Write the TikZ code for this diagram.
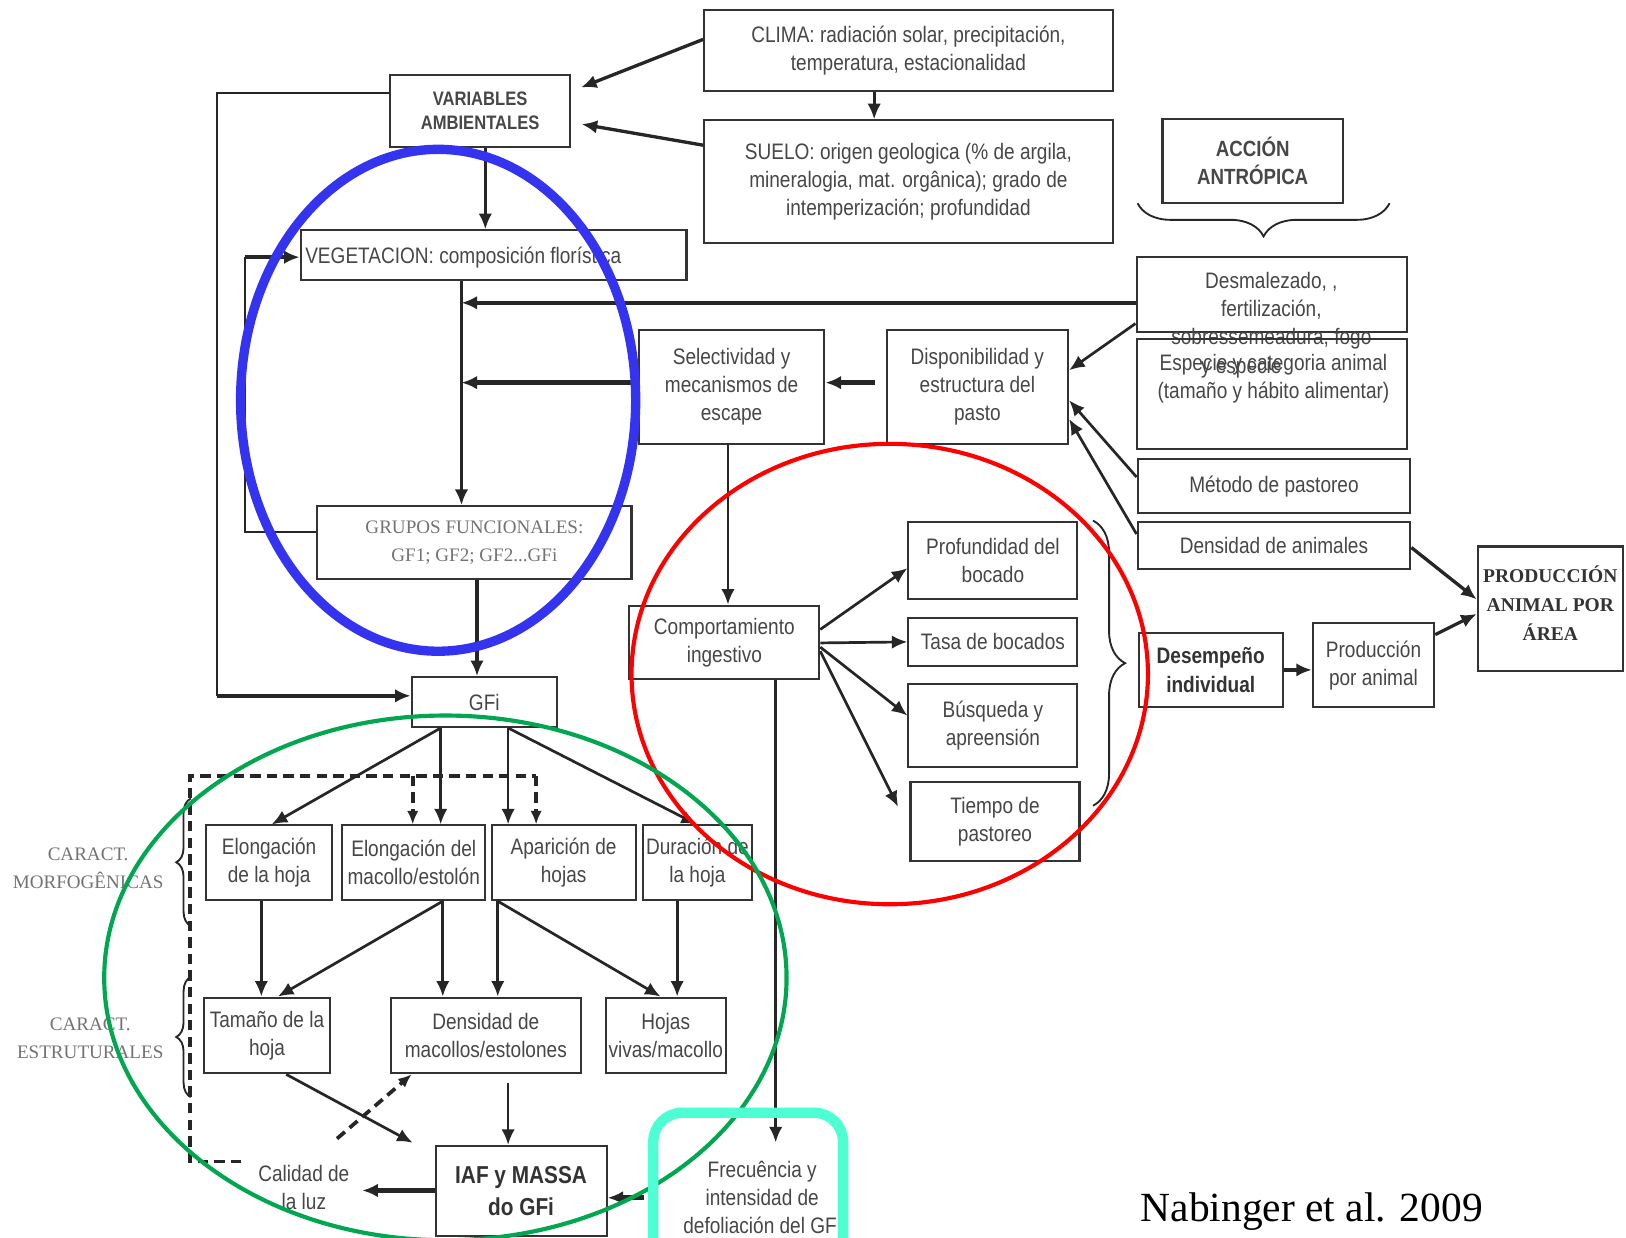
\documentclass[tikz,border=0pt]{standalone}
\usepackage{fontspec}
\setmainfont{Liberation Sans}
\newfontfamily\nar[FakeStretch=0.85]{Liberation Sans}
\newfontfamily\tim{Liberation Serif}
\usetikzlibrary{arrows.meta,decorations.pathreplacing,calc}
\newcommand\bxf{\nar\fontsize{10.8}{13.5}\selectfont}
\newcommand\bbf{\nar\bfseries\fontsize{10.8}{14}\selectfont}
\newcommand\smf{\tim\fontsize{9.2}{13.5}\selectfont}
\definecolor{ebl}{RGB}{51,51,240}
\definecolor{ered}{RGB}{255,0,0}
\definecolor{egr}{RGB}{0,166,80}
\definecolor{ecy}{RGB}{77,255,210}
\begin{document}
\begin{tikzpicture}[x=0.5pt,y=-0.5pt,
  box/.style={draw=black!80,line width=1pt,inner sep=0pt,align=center,font=\bxf,text=black!72},
  rc/.style args={#1/#2/#3/#4}{at={({(#1+#3)/2},{(#2+#4)/2})},minimum width={(#3-#1)*0.5pt},minimum height={(#4-#2)*0.5pt}},
  txt/.style={align=center,font=\bxf,text=black!72,inner sep=0pt},
  arr/.style={draw=black!85,line width=1.3pt,-{Latex[length=7.5pt,width=6.5pt]}},
  tarr/.style={arr,line width=2.2pt},
  thn/.style={draw=black!85,line width=1pt},
  dsh/.style={draw=black!85,line width=1.8pt,dash pattern=on 5pt off 3pt},
  dsha/.style={dsh,-{Latex[length=6.5pt,width=5.5pt]}},
  brc/.style={draw=black!85,line width=0.9pt,decorate},
]
\useasboundingbox (0,0) rectangle (1568,1193);
\fill[white] (0,0) rectangle (1568,1193);
\clip (0,0) rectangle (1568,1193);

% ---- top boxes
\node[box,rc=679/10/1073/88] (clima) {CLIMA: radiación solar, precipitación,\\temperatura, estacionalidad};
\node[box,rc=679/116/1073/234] (suelo) {SUELO: origen geologica (\% de argila,\\mineralogia, mat. orgânica); grado de\\intemperización; profundidad};
\node[box,rc=376/72/550/142,font=\nar\bfseries\fontsize{9.4}{11.5}\selectfont] (var) {VARIABLES\\AMBIENTALES};
\node[box,rc=1121/115/1295/196,font=\nar\bfseries\fontsize{10.6}{13.5}\selectfont] (accion) {ACCIÓN\\ANTRÓPICA};
\node[box,rc=1096/248/1357/320] (desm) {};
\node[txt] (desmt) at (1226,300) {Desmalezado, ,\\fertilización,\\sobressemeadura, fogo};
\node[box,rc=1096/327/1357/433] (especie) {};
\node[txt] (especiet) at (1228,365) {Especie y categoria animal\\(tamaño y hábito alimentar)};
\node[txt] (yesp) at (1197,355) {y especie};
\node[box,rc=1097/443/1360/495] (metodo) {Método de pastoreo};
\node[box,rc=1097/503/1360/549] (densanim) {Densidad de animales};
\node[box,rc=1425/527/1565/647] (prod) {};
\node[txt,font=\tim\bfseries\fontsize{9.4}{14}\selectfont,text=black!80] (prodt) at (1495,582) {PRODUCCIÓN\\ANIMAL POR\\ÁREA};

\node[box,rc=855/318/1030/428] (disp) {Disponibilidad y\\estructura del\\pasto};
\node[box,rc=616/318/795/428] (sel) {Selectividad y\\mecanismos de\\escape};

\node[box,rc=290/222/662/270] (veg) {};
\node[txt,anchor=west] (vegt) at (294,248) {VEGETACION: composición florística};
\node[box,rc=306/488/609/558,font=\smf,text=black!55] (grupos) {GRUPOS FUNCIONALES:\\GF1; GF2; GF2...GFi};
\node[box,rc=397/653/537/701] (gfi) {GFi};

\node[box,rc=607/584/790/655] (comp) {Comportamiento\\ingestivo};
\node[box,rc=876/503/1039/578] (prof) {Profundidad del\\bocado};
\node[box,rc=876/596/1039/642] (tasa) {Tasa de bocados};
\node[box,rc=876/660/1039/740] (busq) {Búsqueda y\\apreensión};
\node[box,rc=878/754/1041/830] (tiempo) {Tiempo de\\pastoreo};
\node[box,rc=1098/610/1237/682,font=\bbf,text=black!80] (desemp) {Desempeño\\individual};
\node[box,rc=1266/601/1383/682] (prodanim) {Producción\\por animal};

% ---- lower part
\node[box,rc=199/796/320/868] (elh) {Elongación\\de la hoja};
\node[box,rc=330/796/468/868] (elm) {Elongación del\\macollo/estolón};
\node[box,rc=474/796/613/868] (apa) {Aparición de\\hojas};
\node[box,rc=620/796/725/868] (dur) {Duración de\\la hoja};
\node[box,rc=197/962/318/1035] (tam) {Tamaño de la\\hoja};
\node[box,rc=377/962/560/1035] (densm) {Densidad de\\macollos/estolones};
\node[box,rc=584/962/700/1035] (hojas) {Hojas\\vivas/macollo};
\node[box,rc=420/1105/585/1192,font=\nar\bfseries\fontsize{11.8}{15.5}\selectfont,text=black!80] (iaf) {IAF y MASSA\\do GFi};
\node[txt] (calidad) at (293,1145) {Calidad de\\la luz};
\node[txt] (frec) at (735,1155) {Frecuência y\\intensidad de\\defoliación del GFi};
\node[txt,font=\smf,text=black!55] (morfo) at (85,837) {CARACT.\\MORFOGÊNICAS};
\node[txt,font=\smf,text=black!55] (estru) at (87,1001) {CARACT.\\ESTRUTURALES};
\node[inner sep=0pt,font=\tim\fontsize{20}{24}\selectfont] (cite) at (1265,1168) {Nabinger et al. 2009};

% ---- connectors top
\draw[arr] (clima.south -| 843,0) -- (suelo.north -| 843,0);
\draw[arr,line width=1.6pt,shorten >=5pt] (clima.west |- 0,38) -- (var.east |- 0,88);
\draw[arr,line width=1.6pt,shorten >=5pt] (suelo.west |- 0,140) -- (var.east |- 0,118);
\draw[arr] (var.south -| 468,0) -- (veg.north -| 468,0);
\coordinate (cL) at (209,671);
\draw[thn] (var.west |- 0,90) -| (cL);
\draw[tarr] (cL) -- (gfi.west |- cL);
\coordinate (cG) at (236,248);
\draw[thn] (grupos.west |- 0,513) -| (cG);
\draw[arr,line width=2pt] (cG) -- (veg.west |- cG);
\draw[arr] (veg.south -| 445,0) -- (grupos.north -| 445,0);
\coordinate (vA) at (445,292);
\coordinate (vB) at (445,369);
\draw[arr,line width=1.8pt] (desm.west |- vA) -- (vA);
\draw[tarr] (sel.west |- vB) -- (vB);
\draw[tarr,shorten <=5pt] (disp.west |- vB) -- (sel.east |- vB);
\draw[arr] (desm.west |- 0,312) -- (disp.east |- 0,357);
\draw[arr] (metodo.west |- 0,460) -- (disp.east |- 0,386);
\draw[arr] (densanim.west |- 0,515) -- (disp.east |- 0,404);
\draw[arr] (sel.south -| 702,0) -- (comp.north -| 702,0);
\draw[arr] (comp.east |- 0,607) -- (prof.west |- 0,548);
\draw[arr] (comp.east |- 0,620) -- (tasa.west);
\draw[arr] (comp.east |- 0,624) -- (busq.west |- 0,690);
\coordinate (tT) at (866,778);
\draw[arr] (comp.east |- 0,628) -- (tT);
\draw[brc,decoration={brace,amplitude=15.5pt}] (1054,502) -- (1054,777);
\draw[brc,decoration={brace,amplitude=16pt}] (1340,196) -- (1097,196);
\draw[tarr] (desemp.east) -- (prodanim.west |- desemp.east);
\draw[arr,line width=1.6pt] (prodanim.east |- 0,612) -- (prod.west |- 0,592);
\draw[arr,line width=1.6pt] (densanim.east |- 0,528) -- (prod.west |- 0,578);
\draw[arr] (comp.south -| 748,0) -- ([yshift=9pt]frec.north -| 748,0);

% ---- connectors bottom
\draw[tarr,shorten <=19pt] (frec.west |- 0,1155) -- (iaf.east |- 0,1155);
\draw[tarr,shorten >=6pt] (iaf.west |- 0,1148) -- (calidad.east |- 0,1148);
\coordinate (dTL) at (183,748);
\draw[dsh,shorten <=8pt] (calidad.west |- 0,1120) -| (dTL) -- (517,748);
\draw[dsha] (517,748) -- (apa.north -| 517,0);
\draw[dsha] (398,748) -- (elm.north -| 398,0);
\coordinate (dS) at (325,1098);
\draw[dsha] (dS) -- (densm.south -| 397,0);
\draw[arr] (gfi.south -| 425,0) -- (elh.north -| 262,0);
\draw[arr] (gfi.south -| 425,0) -- (elm.north -| 425,0);
\draw[arr] (gfi.south -| 490,0) -- (apa.north -| 490,0);
\draw[arr] (gfi.south -| 490,0) -- (dur.north -| 672,0);
\draw[arr] (elh.south -| 252,0) -- (tam.north -| 252,0);
\draw[arr] (elm.south -| 427,0) -- (tam.north -| 268,0);
\draw[arr] (elm.south -| 427,0) -- (densm.north -| 427,0);
\draw[arr] (apa.south -| 480,0) -- (densm.north -| 480,0);
\draw[arr] (apa.south -| 480,0) -- (hojas.north -| 637,0);
\draw[arr] (dur.south -| 653,0) -- (hojas.north -| 653,0);
\coordinate (tI) at (398,1102);
\draw[arr] (tam.south -| 276,0) -- (tI);
\draw[arr,shorten <=4pt] (densm.south -| 490,0) -- (iaf.north -| 490,0);
\draw[tarr] (grupos.south -| 460,0) -- (gfi.north -| 460,0);
\draw[brc,decoration={brace,amplitude=7pt}] (184,893) -- (184,770);
\draw[brc,decoration={brace,amplitude=7pt}] (184,1058) -- (184,942);

% ---- highlight marks
\draw[ebl,line width=4.5pt] (422.5,386) ellipse [x radius=190.5, y radius=242];
\draw[ered,line width=2pt] (858,650) ellipse [x radius=249, y radius=222];
\draw[egr,line width=2pt] (429.5,943) ellipse [x radius=329, y radius=253];
\draw[ecy,line width=5pt,rounded corners=14pt] (630,1240) -- (630,1073) -- (813,1073) -- (813,1240);
\end{tikzpicture}
\end{document}
